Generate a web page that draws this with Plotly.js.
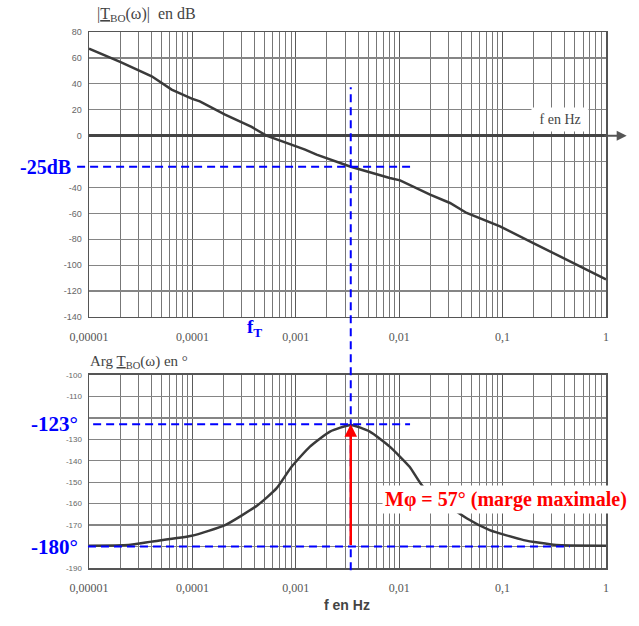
<!DOCTYPE html>
<html>
<head>
<meta charset="utf-8">
<script src="https://cdn.plot.ly/plotly-3.0.1.min.js"></script>
<style>html,body{margin:0;padding:0;background:#fff;}#chart{width:639px;height:626px;}</style>
</head>
<body>
<div id="chart"></div>
<script>
// ---- data ----
const freqMag = [1e-5, 2e-5, 4.04e-5, 6.3e-5, 9.85e-5, 1.18e-4, 2.07e-4, 3.74e-4, 5.2e-4, 7.9e-4, 1.23e-3, 1.59e-3, 3.4e-3, 8.1e-3, 1.02e-2, 1.99e-2, 3.1e-2, 4.49e-2, 9.44e-2, 0.198, 0.386, 0.94, 1];
const magDb   = [67.2, 56.9, 45.8, 35.5, 28.6, 26.5, 16.2, 6.7, 0, -5.2, -10.8, -14.7, -24, -32.7, -34.5, -45.6, -52, -59.7, -70, -82.9, -94.5, -109.9, -111];
const freqPh  = [1e-5, 2.4e-5, 4.04e-5, 9.85e-5, 2.07e-4, 4.3e-4, 6.5e-4, 9.1e-4, 1.37e-3, 2.14e-3, 3.4e-3, 5.2e-3, 8.1e-3, 1.26e-2, 1.7e-2, 4.49e-2, 7.5e-2, 0.16, 0.33, 0.94, 1];
const phDeg   = [-179.6, -179.3, -177.7, -175, -170, -160.6, -152.9, -142.8, -133.4, -126.4, -123.3, -126.4, -133.4, -142.8, -152.1, -166.8, -172.3, -177, -179.3, -179.6, -179.6];
const xTickVals = [1e-5, 1e-4, 1e-3, 1e-2, 1e-1, 1];
const xTickText = ['0,00001', '0,0001', '0,001', '0,01', '0,1', '1'];
const magTickVals = [80, 60, 40, 20, 0, -20, -40, -60, -80, -100, -120, -140];
const magTickText = ['80', '60', '40', '20', '0', '', '-40', '-60', '-80', '-100', '-120', '-140'];
const phTickVals = [-100, -110, -120, -130, -140, -150, -160, -170, -180, -190];
const phTickText = ['-100', '-110', '', '-130', '-140', '-150', '-160', '-170', '', '-190'];
const fT = 0.0034;       // crossover frequency
const magAtFT = -24;     // read position of the "-25dB" line
const labelMag = '-25dB';
const phMax = -123;
const phRef = -180;
const labelMargin = 'Mφ = 57° (marge maximale)';

// minor grid lines (2..9 per decade)
const minorVals = [];
for (let d = -5; d < 0; d++) for (let k = 2; k <= 9; k++) minorVals.push(k * Math.pow(10, d));

const traces = [
  {x: freqMag, y: magDb, xaxis: 'x', yaxis: 'y', mode: 'lines',
   line: {color: '#3a3a3a', width: 2.5}, hoverinfo: 'skip'},
  {x: freqPh, y: phDeg, xaxis: 'x2', yaxis: 'y2', mode: 'lines',
   line: {color: '#3a3a3a', width: 2.5, shape: 'spline', smoothing: 0.5}, hoverinfo: 'skip'}
];

const serif = 'Liberation Serif';
const sans = 'Liberation Sans';
const blue = '#0000ff';

function xAx(anchor) {
  return {
    type: 'log', range: [-5, 0], anchor: anchor, domain: [0, 1],
    tickmode: 'array', tickvals: xTickVals, ticktext: xTickText,
    tickfont: {family: serif, size: 12, color: '#555'},
    ticks: '', ticklabelstandoff: 8,
    showgrid: true, gridcolor: '#5a5a5a', gridwidth: 1,
    minor: {tickvals: minorVals, showgrid: true, gridcolor: '#777', gridwidth: 1, ticks: ''},
    showline: true, mirror: true, linecolor: '#555', linewidth: 1.5,
    zeroline: false, fixedrange: true
  };
}
function yAx(range, vals, text, domain, anchor, size) {
  return {
    range: range, tickmode: 'array', tickvals: vals, ticktext: text, domain: domain, anchor: anchor,
    tickfont: {family: sans, size: size, color: '#666'},
    ticks: '', ticklabelstandoff: 4,
    showgrid: true, gridcolor: '#858585', gridwidth: 1.3,
    showline: true, mirror: true, linecolor: '#555', linewidth: 1.5,
    fixedrange: true
  };
}

const dashStyle = {color: blue, width: 2, dash: '8px,5px'};

const layout = {
  width: 639, height: 626,
  margin: {l: 89, r: 33, t: 32, b: 58},
  paper_bgcolor: '#fff', plot_bgcolor: '#fff',
  showlegend: false,
  xaxis: xAx('y'),
  yaxis: Object.assign(yAx([-140, 80], magTickVals, magTickText, [0.4683, 1], 'x', 9),
                       {zeroline: true, zerolinecolor: '#444', zerolinewidth: 3}),
  xaxis2: xAx('y2'),
  yaxis2: Object.assign(yAx([-190, -100], phTickVals, phTickText, [0, 0.3601], 'x2', 8), {zeroline: false}),
  shapes: [
    {type: 'line', xref: 'paper', yref: 'y', x0: -0.023, x1: 0.621, y0: magAtFT, y1: magAtFT, line: dashStyle},
    {type: 'line', xref: 'x', yref: 'paper', x0: fT, x1: fT, y0: -0.004, y1: 0.897, line: dashStyle},
    {type: 'line', xref: 'paper', yref: 'y2', x0: 0.008, x1: 0.621, y0: phMax, y1: phMax, line: dashStyle},
    {type: 'line', xref: 'paper', yref: 'y2', x0: -0.002, x1: 0.930, y0: phRef, y1: phRef, line: dashStyle}
  ],
  annotations: [
    {xref: 'paper', yref: 'paper', x: 0.0116, y: 1.032, xanchor: 'left', yanchor: 'middle', showarrow: false,
     text: '|<u>T</u><sub>BO</sub>(ω)|  en dB', font: {family: serif, size: 16, color: '#444'}},
    {xref: 'paper', yref: 'paper', x: 0.911, y: 0.836, xanchor: 'center', yanchor: 'middle', showarrow: false,
     text: ' f en Hz ', bgcolor: '#fff', borderpad: 4, font: {family: serif, size: 14, color: '#444'}},
    {xref: 'paper', yref: 'y', x: 1.04, y: 0, ax: -24, ay: 0, axref: 'pixel', ayref: 'pixel', text: '',
     showarrow: true, arrowhead: 2, arrowsize: 1, arrowwidth: 2, arrowcolor: '#555'},
    {xref: 'paper', yref: 'paper', x: -0.002, y: 0.384, xanchor: 'left', yanchor: 'middle', showarrow: false,
     text: 'Arg <u>T</u><sub>BO</sub>(ω) en °', font: {family: serif, size: 15, color: '#444'}},
    {xref: 'paper', yref: 'paper', x: 0.499, y: -0.069, xanchor: 'center', yanchor: 'middle', showarrow: false,
     text: '<b>f en Hz</b>', font: {family: sans, size: 14, color: '#444'}},
    {xref: 'paper', yref: 'y', x: -0.031, y: magAtFT, xanchor: 'right', yanchor: 'middle', showarrow: false,
     text: '<b>' + labelMag + '</b>', font: {family: serif, size: 20, color: blue}},
    {xref: 'paper', yref: 'paper', x: 0.321, y: 0.448, xanchor: 'center', yanchor: 'middle', showarrow: false,
     text: '<b>f<sub>T</sub></b>', font: {family: serif, size: 19, color: blue}},
    {xref: 'paper', yref: 'y2', x: -0.017, y: phMax, xanchor: 'right', yanchor: 'middle', showarrow: false,
     text: '<b>' + phMax + '°</b>', font: {family: serif, size: 21, color: blue}},
    {xref: 'paper', yref: 'y2', x: -0.017, y: phRef, xanchor: 'right', yanchor: 'middle', showarrow: false,
     text: '<b>' + phRef + '°</b>', font: {family: serif, size: 21, color: blue}},
    {xref: 'x2', yref: 'y2', x: Math.log10(fT), y: phMax, axref: 'x2', ayref: 'y2', ax: Math.log10(fT), ay: phRef,
     text: '', showarrow: true, arrowhead: 2, arrowsize: 1, arrowwidth: 2.5, arrowcolor: '#ff0000'},
    {xref: 'paper', yref: 'paper', x: 0.807, y: 0.127, xanchor: 'center', yanchor: 'middle', showarrow: false,
     text: '<b>' + labelMargin + '</b>', bgcolor: '#fff', borderpad: 2, font: {family: serif, size: 20, color: '#ff0000'}}
  ]
};

Plotly.newPlot('chart', traces, layout, {displayModeBar: false, staticPlot: true});
</script>
</body>
</html>
